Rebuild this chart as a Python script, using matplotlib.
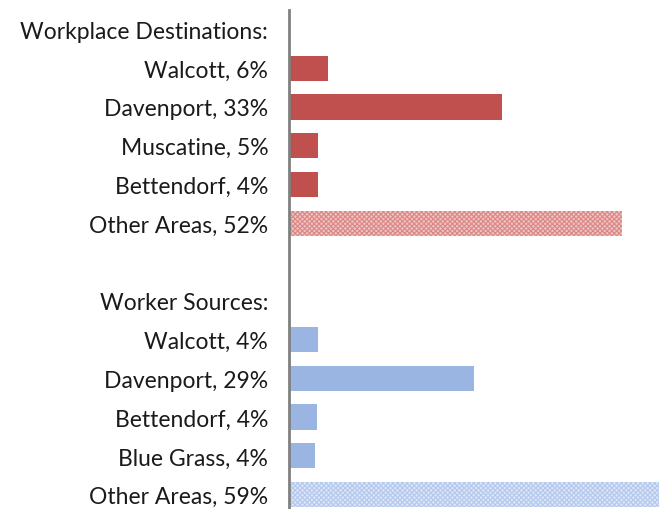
import matplotlib
matplotlib.use('Agg')
import matplotlib.pyplot as plt
import numpy as np

plt.rcParams['font.family'] = ['Lato', 'DejaVu Sans']
plt.rcParams['hatch.linewidth'] = 0.8

# rows top to bottom; '' = spacer row (no bar)
labels = ['Workplace Destinations:', 'Walcott, 6%', 'Davenport, 33%', 'Muscatine, 5%',
          'Bettendorf, 4%', 'Other Areas, 52%', '',
          'Worker Sources:', 'Walcott, 4%', 'Davenport, 29%', 'Bettendorf, 4%',
          'Blue Grass, 4%', 'Other Areas, 59%']
dest_vals = [6.0, 33.0, 4.5, 4.5, 51.6]
src_vals = [4.5, 28.7, 4.3, 4.0, 59.0]

red = '#C0504D'
blue = '#9BB5E3'

fig = plt.figure(figsize=(6.59, 5.10), dpi=100)
ax = fig.add_axes([289 / 659, -5 / 510, 1 - 289 / 659, 504 / 510])

ypos = np.arange(len(labels))
dest_y = ypos[1:6]
src_y = ypos[8:13]

ax.barh(dest_y[:4], dest_vals[:4], height=0.65, color=red)
ax.barh(dest_y[4], dest_vals[4], height=0.65, color='#F0C2C1', edgecolor='#DA8885',
        hatch='xxxxxxx', linewidth=0)
ax.barh(src_y[:4], src_vals[:4], height=0.65, color=blue)
ax.barh(src_y[4], src_vals[4], height=0.65, color='#DCE6F7', edgecolor='#B3C8EE',
        hatch='xxxxxxx', linewidth=0)

ax.set_ylim(len(labels) - 0.5, -0.5)
ax.set_xlim(0, 57.3)
ax.set_yticks(ypos)
ax.set_yticklabels(labels, fontsize=16.5, color='#1a1a1a')
ax.tick_params(axis='y', length=0, pad=15)
ax.set_xticks([])
for s in ['top', 'right', 'bottom']:
    ax.spines[s].set_visible(False)
ax.spines['left'].set_color('#808080')
ax.spines['left'].set_linewidth(2)

fig.savefig('out.png', dpi=100)
